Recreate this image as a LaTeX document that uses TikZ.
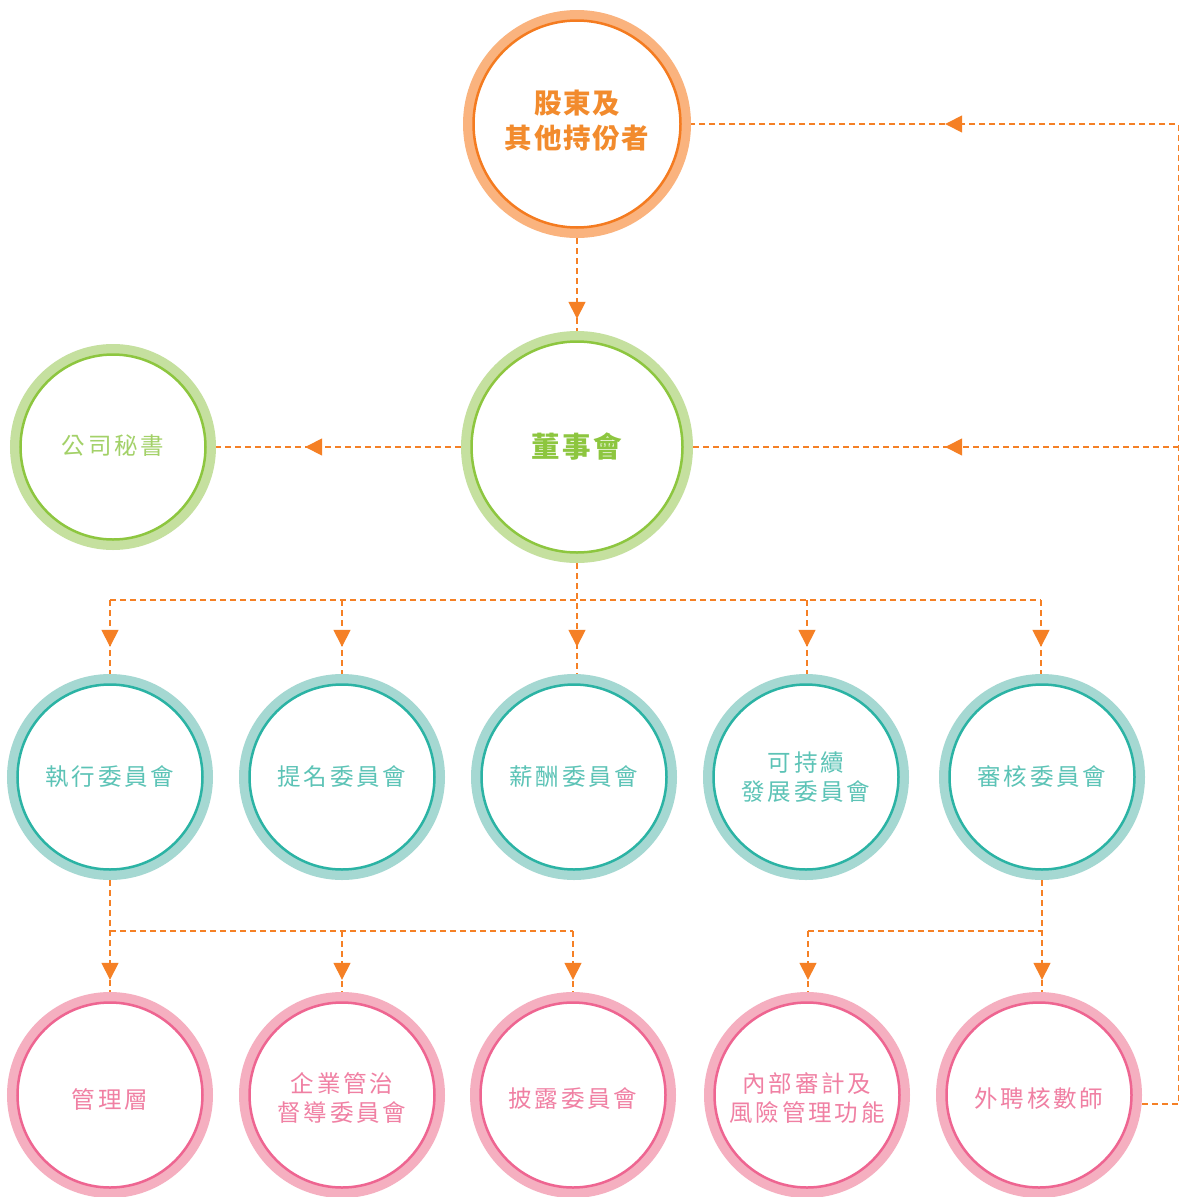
\documentclass[tikz,border=0pt]{standalone}
\usepackage{fontspec}
\usetikzlibrary{arrows.meta,decorations.markings}
\newfontfamily\cjkS{Noto Sans CJK TC}[LetterSpace=12]
\newfontfamily\cjkT{Noto Sans CJK TC}[LetterSpace=6]
\newfontfamily\cjkB{Noto Sans CJK TC}[LetterSpace=8]
\definecolor{oL}{HTML}{FAB37E}
\definecolor{oD}{HTML}{F47B20}
\definecolor{oT}{HTML}{F28B2D}
\definecolor{gL}{HTML}{C5E09F}
\definecolor{gD}{HTML}{8DC63F}
\definecolor{gT}{HTML}{8DC63F}
\definecolor{gT2}{HTML}{A3D168}
\definecolor{tL}{HTML}{A5D8D2}
\definecolor{tD}{HTML}{2BB3A4}
\definecolor{tT}{HTML}{5CC3B6}
\definecolor{pL}{HTML}{F5AFC0}
\definecolor{pD}{HTML}{EE6591}
\definecolor{pT}{HTML}{F080A3}
\definecolor{lineC}{HTML}{F58025}
\newcommand\ringdraw[4]{%
  \draw[#2, line width=10pt] (#1.center) circle[radius=#4-5];
  \draw[#3, line width=2.5pt] (#1.center) circle[radius=#4-10.5];}
\begin{document}
\begin{tikzpicture}[x=1pt,y=-1pt,
  circ/.style={circle, inner sep=0pt, minimum size=#1},
  txt/.style={inner sep=0pt, align=center},
  small/.style={txt, font=\cjkS\fontsize{23.5}{29}\selectfont},
  conn/.style={draw=lineC, line width=1.5pt, dash pattern=on 6pt off 4pt},
  tipat/.style={postaction={decorate,decoration={markings,
     mark=at position #1 with {\arrow[lineC]{Triangle[width=17pt,length=17pt]}}}}}]
\useasboundingbox (0,0) rectangle (1179,1197);
\fill[white] (0,0) rectangle (1179,1197);
% circles
\node[circ=228] (sh) at (577,124) {};
\node[circ=232] (bd) at (577,447) {};
\node[circ=206] (sec) at (113,447) {};
\node[circ=206] (c1) at (110,777) {};
\node[circ=206] (c2) at (342,777) {};
\node[circ=206] (c3) at (574,777) {};
\node[circ=206] (c4) at (806,777) {};
\node[circ=206] (c5) at (1042,777) {};
\node[circ=206] (b1) at (110,1095) {};
\node[circ=206] (b2) at (342,1095) {};
\node[circ=206] (b3) at (573,1095) {};
\node[circ=206] (b4) at (807,1095) {};
\node[circ=206] (b5) at (1039,1095) {};
% rings
\ringdraw{sh}{oL}{oD}{114}
\ringdraw{bd}{gL}{gD}{116}
\ringdraw{sec}{gL}{gD}{103}
\foreach \n in {c1,c2,c3,c4,c5} {\ringdraw{\n}{tL}{tD}{103}}
\foreach \n in {b1,b2,b3,b4,b5} {\ringdraw{\n}{pL}{pD}{103}}
% labels
\node[txt, font=\cjkT\bfseries\fontsize{27.5}{35}\selectfont, text=oT] (sht) at ([yshift=3.5pt]sh.center) {股東及\\其他持份者};
\node[txt, font=\cjkB\bfseries\fontsize{28.5}{34}\selectfont, text=gT] (bdt) at (bd.center) {董事會};
\node[small, text=gT2] (sect) at ([yshift=1pt]sec.center) {公司秘書};
\node[small, text=tT] (c1t) at (c1.center) {執行委員會};
\node[small, text=tT] (c2t) at (c2.center) {提名委員會};
\node[small, text=tT] (c3t) at (c3.center) {薪酬委員會};
\node[small, text=tT] (c4t) at (c4.center) {可持續\\發展委員會};
\node[small, text=tT] (c5t) at (c5.center) {審核委員會};
\node[small, text=pT] (b1t) at ([yshift=-4pt]b1.center) {管理層};
\node[small, text=pT] (b2t) at ([yshift=-3pt]b2.center) {企業管治\\督導委員會};
\node[small, text=pT] (b3t) at ([yshift=-4pt]b3.center) {披露委員會};
\node[small, text=pT] (b4t) at ([yshift=-3pt]b4.center) {內部審計及\\風險管理功能};
\node[small, text=pT] (b5t) at ([yshift=-4pt]b5.center) {外聘核數師};
% junctions
\coordinate (rt) at (1178.5,124);
\coordinate (rm) at (1178.5,447);
\coordinate (h1) at (110,600);
\coordinate (h2) at (342,600);
\coordinate (h4) at (807,600);
\coordinate (h5) at (1041,600);
\coordinate (g1) at (110,931);
\coordinate (g2) at (342,931);
\coordinate (g3) at (573,931);
\coordinate (k4) at (808,931);
\coordinate (k5) at (1041,931);
% connectors
\draw[conn, tipat=-12pt] (sh) -- (bd);
\draw[conn, tipat=-89pt] (bd) -- (sec);
\draw[conn, tipat=-254pt] (b5.-5.6) -| (rt) -- (sh.east);
\draw[conn, tipat=-252pt] (rm) -- (bd.east);
\draw[conn, tipat=-27pt] (bd.south) -- (bd.south |- c3.north);
\draw[conn] (h1) -- (h5);
\foreach \h/\c in {h1/c1,h2/c2,h4/c4,h5/c5} {\draw[conn, tipat=-27pt] (\h) -- (\h |- \c.north);}
\draw[conn, tipat=-12pt] (c1.south) -- (c1.south |- b1.north);
\draw[conn] (g1) -- (g3);
\draw[conn, tipat=-12pt] (g2) -- (g2 |- b2.north);
\draw[conn, tipat=-12pt] (g3) -- (g3 |- b3.north);
\draw[conn, tipat=-12pt] (c5.south) -- (c5.south |- b5.north);
\draw[conn] (k4) -- (k5);
\draw[conn, tipat=-12pt] (k4) -- (k4 |- b4.north);
\end{tikzpicture}
\end{document}
